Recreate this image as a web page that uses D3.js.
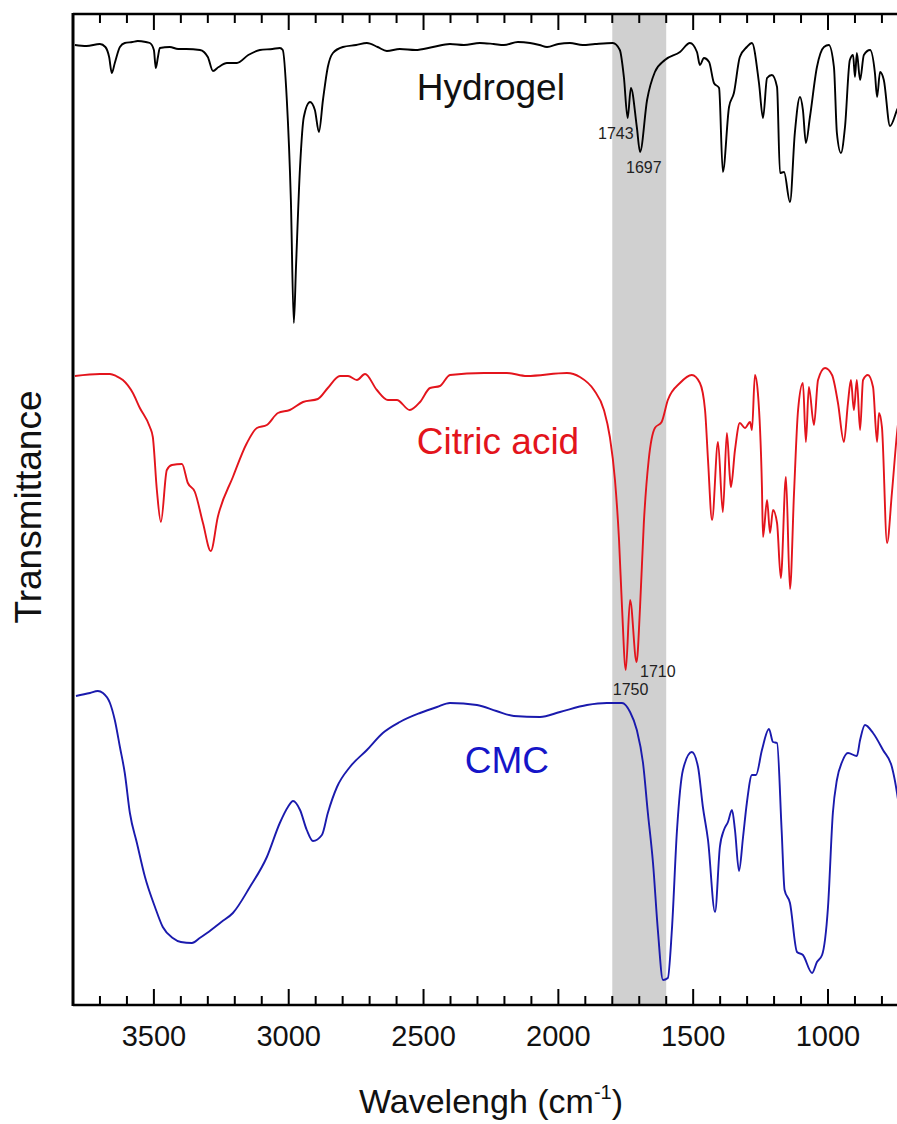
<!DOCTYPE html>
<html>
<head>
<meta charset="utf-8">
<script src="https://cdn.jsdelivr.net/npm/d3@7"></script>
<style>
  html, body { margin: 0; padding: 0; background: #fff; }
  svg { display: block; font-family: "Liberation Sans", Arial, sans-serif; }
</style>
</head>
<body>
<svg id="chart" width="897" height="1124"></svg>
<script>
// ---- data (wavenumber cm-1, transmittance a.u., stacked) ----
const hydrogel = [
  [3793,96.0],[3750,95.9],[3700,96.1],[3680,95.8],[3666,94.8],[3656,93.2],[3645,94.2],[3626,95.8],[3608,96.2],[3580,96.3],[3560,96.4],[3530,96.3],[3515,96.2],
  [3500,95.5],[3493,93.7],[3485,94.8],[3478,95.7],[3441,95.8],[3410,95.6],[3380,95.6],[3329,95.5],[3300,94.8],[3281,93.4],[3260,93.8],[3229,94.2],[3192,94.2],
  [3150,95.0],[3107,95.5],[3060,95.6],[3033,95.7],[3022,95.5],[3007,90.5],[2992,80.5],[2981,68.2],[2973,73.8],
  [2958,83.8],[2944,88.8],[2921,90.3],[2903,89.5],[2888,87.3],[2873,90.5],[2855,93.8],[2836,95.2],
  [2799,95.8],[2750,96.0],[2710,96.2],[2670,95.8],[2636,95.4],[2588,95.6],[2530,95.5],[2465,95.8],[2402,96.1],[2350,96.0],
  [2291,96.2],[2240,96.1],[2202,96.0],[2150,96.3],[2105,96.2],[2070,96.0],[2042,95.8],[2000,96.1],
  [1957,96.2],[1910,96.0],[1864,96.1],[1798,96.2],[1772,95.5],[1757,92.8],[1743,88.7],[1731,91.7],
  [1709,87.8],[1697,85.3],[1671,90.5],[1642,93.3],[1605,94.5],[1549,95.3],[1512,96.2],[1486,95.3],
  [1475,94.0],[1460,94.7],[1441,94.3],[1423,92.2],[1404,91.7],[1390,83.3],[1367,89.8],[1349,91.2],
  [1327,94.8],[1301,95.8],[1282,96.2],[1256,92.2],[1241,88.7],[1226,92.7],[1208,93.0],[1189,91.8],
  [1178,83.2],[1163,83.3],[1141,80.3],[1123,87.2],[1104,90.8],[1093,89.5],[1082,86.2],[1067,88.8],
  [1041,93.8],[1015,95.8],[997,96.0],[978,93.8],[967,87.2],[952,85.2],[937,87.8],[919,94.5],
  [907,95.0],[900,92.8],[893,95.2],[881,92.5],[867,95.0],[844,95.5],[826,93.2],[818,90.8],
  [807,93.3],[793,92.5],[770,87.9],[744,89.5],[720,91.0]
];
const citricAcid = [
  [3793,62.9],[3700,63.1],[3663,63.1],[3640,62.9],[3615,62.5],[3578,61.2],[3552,59.7],[3515,57.8],[3504,56.8],[3489,51.5],
  [3474,48.3],[3452,53.5],[3433,54.0],[3396,54.1],[3374,52.2],[3348,51.3],[3318,48.2],[3289,45.4],
  [3263,48.8],[3207,52.8],[3155,56.2],[3118,57.7],[3081,58.0],[3040,59.2],[2996,59.5],[2947,60.3],
  [2892,60.6],[2855,61.7],[2810,62.9],[2780,62.9],[2747,62.5],[2717,63.1],[2673,61.5],[2632,60.5],
  [2599,60.5],[2551,59.5],[2513,60.3],[2476,61.7],[2439,61.9],[2402,63.0],[2276,63.2],[2191,63.2],
  [2117,62.9],[1968,63.2],[1920,62.8],[1868,61.5],[1831,59.5],[1809,56.8],[1790,52.5],[1775,46.5],
  [1764,39.8],[1750,33.5],[1734,40.5],[1710,34.3],[1697,39.8],[1683,48.2],[1665,54.5],[1642,57.7],
  [1617,58.3],[1594,60.5],[1549,62.2],[1505,63.0],[1475,62.2],[1456,59.5],[1445,54.5],[1430,48.5],
  [1408,56.3],[1390,49.3],[1375,57.2],[1364,52.8],[1360,51.8],[1345,55.5],[1327,58.2],[1308,57.7],
  [1289,58.3],[1282,57.5],[1271,63.0],[1260,61.2],[1245,51.8],[1241,46.8],[1226,50.5],[1215,47.2],
  [1204,49.5],[1189,48.2],[1175,42.7],[1156,52.8],[1141,41.6],[1126,51.2],[1111,59.5],[1093,62.2],
  [1082,56.3],[1071,61.8],[1052,58.0],[1037,62.5],[1011,63.7],[985,63.0],[963,60.2],[941,56.3],
  [926,60.2],[915,62.5],[904,59.5],[893,62.5],[881,57.5],[870,62.5],[852,63.0],[833,61.8],
  [818,56.3],[811,59.2],[800,57.8],[781,46.2],[763,51.2],[744,57.2],[720,62.0]
];
const cmc = [
  [3789,30.9],[3737,31.2],[3708,31.4],[3689,31.2],[3663,30.2],[3645,28.5],[3626,25.8],[3608,23.2],
  [3589,19.2],[3563,16.2],[3533,12.8],[3496,9.8],[3467,7.8],[3430,6.7],[3400,6.3],[3359,6.2],[3330,6.7],[3303,7.2],
  [3250,8.3],[3207,9.2],[3144,11.8],[3081,14.8],[3033,18.2],[3003,19.8],[2984,20.4],[2958,19.5],[2933,17.5],
  [2910,16.4],[2877,17.0],[2855,19.2],[2821,21.8],[2773,23.8],[2710,25.5],[2651,27.2],[2588,28.3],
  [2513,29.2],[2450,29.8],[2402,30.2],[2302,30.0],[2230,29.4],[2165,28.9],[2068,28.8],[1994,29.3],[1894,30.0],
  [1820,30.2],[1764,30.2],[1734,29.3],[1709,27.5],[1686,24.2],[1668,19.2],[1649,14.2],[1631,7.5],
  [1612,2.5],[1594,2.7],[1579,7.5],[1560,17.5],[1538,23.5],[1505,25.3],[1482,23.8],[1464,19.8],
  [1445,16.5],[1419,9.3],[1401,15.8],[1386,17.5],[1371,18.3],[1356,19.5],[1345,17.5],[1330,13.4],
  [1315,16.8],[1301,20.2],[1282,23.0],[1267,23.0],[1245,25.5],[1219,27.6],[1204,26.3],[1189,26.2],
  [1172,17.5],[1161,11.5],[1141,10.2],[1115,5.3],[1093,5.0],[1059,3.2],[1041,4.3],[1022,5.0],
  [1000,9.8],[982,19.2],[967,22.5],[948,24.3],[926,25.2],[893,24.9],[881,26.5],[863,28.0],
  [833,27.2],[796,25.5],[763,23.8],[744,21.2],[720,16.0]
];
const seriesNames = ["Hydrogel", "Citric acid", "CMC"];
const seriesColors = ["#000000", "#e3141c", "#1a1aad"];
const labelColors = ["#111111", "#e3141c", "#1515c8"];
const seriesLabelPos = [[2525, 90.5], [2525, 55.1], [2347, 23.2]];
const peakLabels = [
  {text: "1743", wn: 1853, t: 86.6},
  {text: "1697", wn: 1749, t: 83.2},
  {text: "1710", wn: 1697, t: 32.8},
  {text: "1750", wn: 1798, t: 31.0}
];
const band = [1800, 1600];
const majorTicks = [3500, 3000, 2500, 2000, 1500, 1000];
const tickLabels = ["3500", "3000", "2500", "2000", "1500", "1000"];
const minorTicks = [3700,3600,3400,3300,3200,3100,2900,2800,2700,2600,2400,2300,2200,2100,1900,1800,1700,1600,1400,1300,1200,1100,900,800,700];
const xDomain = [3800, 600];
const yDomain = [0, 99.1];

// ---- layout ----
const svg = d3.select("#chart");
const plotLeft = 73, plotTop = 14, plotBottom = 1005;
const x = d3.scaleLinear().domain([3800, 1000]).range([plotLeft, 828]);
const y = d3.scaleLinear().domain(yDomain).range([plotBottom, plotTop]);

svg.append("defs").append("clipPath").attr("id", "plotclip")
  .append("rect").attr("x", plotLeft).attr("y", plotTop)
  .attr("width", x(xDomain[1]) - plotLeft).attr("height", plotBottom - plotTop);

// shaded band
svg.append("rect")
  .attr("x", x(band[0])).attr("y", plotTop)
  .attr("width", x(band[1]) - x(band[0])).attr("height", plotBottom - plotTop)
  .attr("fill", "#d0d0d0");

// curves
const line = d3.line().curve(d3.curveMonotoneX).x(d => x(d[0])).y(d => y(d[1]));
const plot = svg.append("g").attr("clip-path", "url(#plotclip)");
[hydrogel, citricAcid, cmc].forEach((s, i) => {
  plot.append("path").datum(s)
    .attr("d", line)
    .attr("fill", "none")
    .attr("stroke", seriesColors[i])
    .attr("stroke-width", 1.9)
    .attr("stroke-linejoin", "round");
});

// series labels
seriesNames.forEach((n, i) => {
  svg.append("text")
    .attr("x", x(seriesLabelPos[i][0])).attr("y", y(seriesLabelPos[i][1]))
    .attr("font-size", 37).attr("fill", labelColors[i])
    .text(n);
});

// peak labels
peakLabels.forEach(p => {
  svg.append("text")
    .attr("x", x(p.wn)).attr("y", y(p.t))
    .attr("font-size", 16).attr("fill", "#222")
    .text(p.text);
});

// axes
const xEnd = x(xDomain[1]);
const axisG = svg.append("g").attr("stroke", "#000").attr("fill", "none");
axisG.append("line").attr("x1", plotLeft).attr("x2", xEnd).attr("y1", plotBottom).attr("y2", plotBottom).attr("stroke-width", 2.5);
axisG.append("line").attr("x1", plotLeft).attr("x2", xEnd).attr("y1", plotTop).attr("y2", plotTop).attr("stroke-width", 2.5);
axisG.append("line").attr("x1", plotLeft).attr("x2", plotLeft).attr("y1", plotTop - 1).attr("y2", plotBottom + 1).attr("stroke-width", 3);

majorTicks.forEach(v => {
  axisG.append("line").attr("x1", x(v)).attr("x2", x(v)).attr("y1", plotBottom).attr("y2", plotBottom - 16).attr("stroke-width", 2);
  axisG.append("line").attr("x1", x(v)).attr("x2", x(v)).attr("y1", plotTop).attr("y2", plotTop + 16).attr("stroke-width", 2);
});
minorTicks.forEach(v => {
  axisG.append("line").attr("x1", x(v)).attr("x2", x(v)).attr("y1", plotBottom).attr("y2", plotBottom - 9).attr("stroke-width", 2);
  axisG.append("line").attr("x1", x(v)).attr("x2", x(v)).attr("y1", plotTop).attr("y2", plotTop + 9).attr("stroke-width", 2);
});

majorTicks.forEach((v, i) => {
  svg.append("text")
    .attr("x", x(v)).attr("y", 1046)
    .attr("text-anchor", "middle").attr("font-size", 29).attr("fill", "#111")
    .text(tickLabels[i]);
});

const xt = svg.append("text").attr("x", 491).attr("y", 1113)
  .attr("text-anchor", "middle").attr("font-size", 34).attr("fill", "#111");
xt.append("tspan").text("Wavelengh (cm");
xt.append("tspan").attr("font-size", 20).attr("dy", -14).text("-1");
xt.append("tspan").attr("dy", 14).text(")");

svg.append("text")
  .attr("transform", "translate(41,507) rotate(-90)")
  .attr("text-anchor", "middle").attr("font-size", 37).attr("fill", "#111")
  .text("Transmittance");
</script>
</body>
</html>
